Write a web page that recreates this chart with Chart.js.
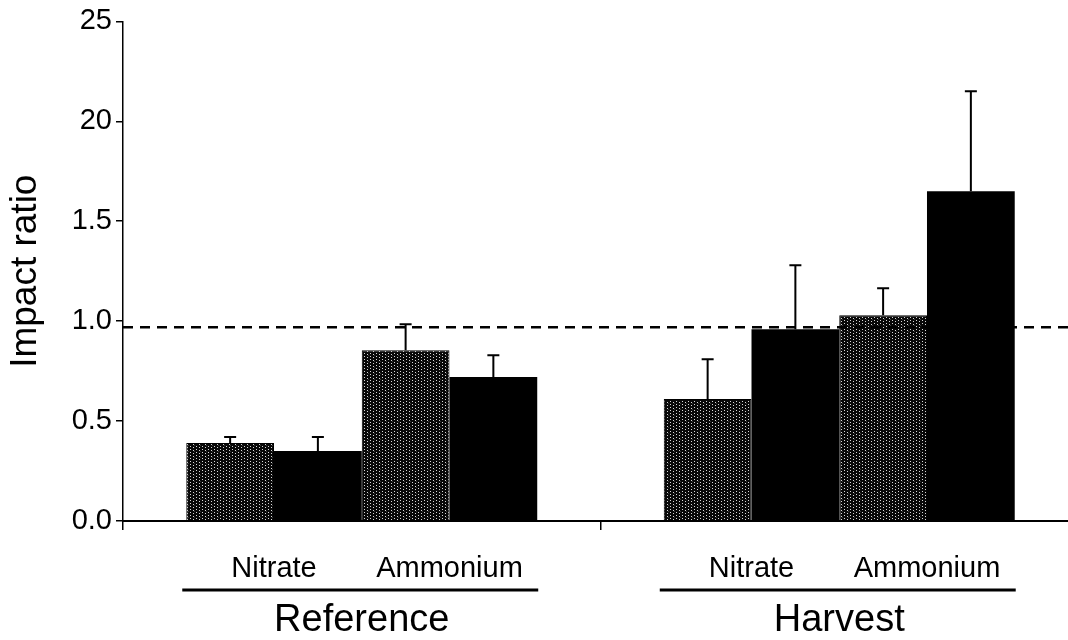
<!DOCTYPE html>
<html>
<head>
<meta charset="utf-8">
<title>Impact ratio</title>
<script src="https://cdn.jsdelivr.net/npm/chart.js@4.4.0/dist/chart.umd.min.js"></script>
<style>
    html, body { margin: 0; padding: 0; background: #fff; overflow: hidden; }
    #wrap { width: 1068px; height: 640px; overflow: hidden; }
    #wrap canvas { display: block; }
</style>
</head>
<body>
<div id="wrap"><canvas id="impactChart" width="1080" height="640"></canvas></div>
<script>
// Data
const groups = ['Reference', 'Harvest'];
const subLabels = ['Nitrate', 'Ammonium'];
const nitrateGrey = [0.39, 0.61];
const nitrateBlack = [0.35, 0.96];
const ammoniumGrey = [0.855, 1.03];
const ammoniumBlack = [0.72, 1.65];
const nitrateGreyErr = [0.03, 0.20];
const nitrateBlackErr = [0.07, 0.32];
const ammoniumGreyErr = [0.13, 0.135];
const ammoniumBlackErr = [0.11, 0.50];
const yTickLabels = ['0.0', '0.5', '1.0', '1.5', '20', '25'];
const referenceLine = 0.97;

const FONT = '"Liberation Sans", Arial, sans-serif';

// stippled near-black fill for the "grey" bars
function makeStipple() {
    const c = document.createElement('canvas');
    c.width = 6; c.height = 6;
    const g = c.getContext('2d');
    g.fillStyle = '#080808';
    g.fillRect(0, 0, 6, 6);
    g.fillStyle = '#d8d8d8';
    g.fillRect(1, 0, 1, 1);
    g.fillRect(4, 2, 1, 1);
    g.fillRect(1, 3, 1, 1);
    g.fillRect(4, 5, 1, 1);
    g.fillStyle = '#3a3a3a';
    g.fillRect(2, 1, 1, 1);
    return g.createPattern(c, 'repeat');
}

document.addEventListener('DOMContentLoaded', function() {
    const ctx = document.getElementById('impactChart').getContext('2d');
    const grey = makeStipple();

    const seriesErr = [nitrateGreyErr, nitrateBlackErr, ammoniumGreyErr, ammoniumBlackErr];

    const errorBars = {
        id: 'errorBars',
        afterDatasetsDraw(chart) {
            const c = chart.ctx;
            const y = chart.scales.y;
            c.save();
            c.strokeStyle = '#000';
            c.lineWidth = 2;
            chart.data.datasets.forEach((ds, i) => {
                chart.getDatasetMeta(i).data.forEach((bar, j) => {
                    const top = y.getPixelForValue(ds.data[j] + seriesErr[i][j]);
                    c.beginPath();
                    c.moveTo(bar.x, bar.y);
                    c.lineTo(bar.x, top);
                    c.moveTo(bar.x - 6, top);
                    c.lineTo(bar.x + 6, top);
                    c.stroke();
                });
            });
            // dashed line at impact ratio ~1
            const ly = y.getPixelForValue(referenceLine);
            c.setLineDash([10, 7]);
            c.lineWidth = 2.5;
            c.beginPath();
            c.moveTo(chart.chartArea.left, ly);
            c.lineTo(chart.chartArea.right, ly);
            c.stroke();
            c.restore();
        }
    };

    const groupLabels = {
        id: 'groupLabels',
        afterDraw(chart) {
            const c = chart.ctx;
            const bottom = chart.chartArea.bottom;
            const m = [0, 1, 2, 3].map(i => chart.getDatasetMeta(i).data);
            c.save();
            c.fillStyle = '#000';
            c.strokeStyle = '#000';
            c.textAlign = 'center';
            c.textBaseline = 'alphabetic';
            groups.forEach((name, j) => {
                const nx = (m[0][j].x + m[1][j].x) / 2;
                const ax = (m[2][j].x + m[3][j].x) / 2;
                c.font = '29px ' + FONT;
                c.fillText(subLabels[0], nx, bottom + 56);
                c.fillText(subLabels[1], ax, bottom + 56);
                const left = m[0][j].x - m[0][j].width / 2 - 4;
                const right = m[3][j].x + m[3][j].width / 2 + 1;
                c.lineWidth = 3;
                c.beginPath();
                c.moveTo(left, bottom + 69);
                c.lineTo(right, bottom + 69);
                c.stroke();
                c.font = '38px ' + FONT;
                c.fillText(name, chart.scales.x.getPixelForValue(j), bottom + 110);
            });
            c.restore();
        }
    };

    new Chart(ctx, {
        type: 'bar',
        data: {
            labels: groups,
            datasets: [
                { label: 'Nitrate (grey)', data: nitrateGrey, backgroundColor: grey, borderColor: '#000', borderWidth: 1 },
                { label: 'Nitrate (black)', data: nitrateBlack, backgroundColor: '#000', borderWidth: 0 },
                { label: 'Ammonium (grey)', data: ammoniumGrey, backgroundColor: grey, borderColor: '#000', borderWidth: 1 },
                { label: 'Ammonium (black)', data: ammoniumBlack, backgroundColor: '#000', borderWidth: 0 }
            ]
        },
        options: {
            responsive: false,
            animation: false,
            datasets: {
                bar: { categoryPercentage: 0.735, barPercentage: 1.0 }
            },
            layout: { padding: { top: 18, right: 2, bottom: 0, left: 0 } },
            plugins: {
                legend: { display: false },
                tooltip: { enabled: false }
            },
            scales: {
                x: {
                    offset: true,
                    grid: {
                        offset: true,
                        drawOnChartArea: false,
                        drawTicks: true,
                        tickLength: 9,
                        color: '#000',
                        lineWidth: 1.5
                    },
                    border: { color: '#000', width: 2 },
                    ticks: { display: false },
                    afterFit(scale) { scale.height = 119; }
                },
                y: {
                    min: 0,
                    max: 2.5,
                    ticks: {
                        stepSize: 0.5,
                        color: '#000',
                        padding: 4,
                        font: { family: FONT, size: 29 },
                        callback: (value, index) => yTickLabels[index]
                    },
                    grid: {
                        drawOnChartArea: false,
                        drawTicks: true,
                        tickLength: 7,
                        color: '#000',
                        lineWidth: 1.5
                    },
                    border: { color: '#000', width: 1.5 },
                    title: {
                        display: true,
                        text: 'Impact ratio',
                        color: '#000',
                        font: { family: FONT, size: 37 },
                        padding: { top: 4, bottom: 6 }
                    },
                    afterFit(scale) { scale.width = 123; }
                }
            }
        },
        plugins: [errorBars, groupLabels]
    });
});
</script>
</body>
</html>
